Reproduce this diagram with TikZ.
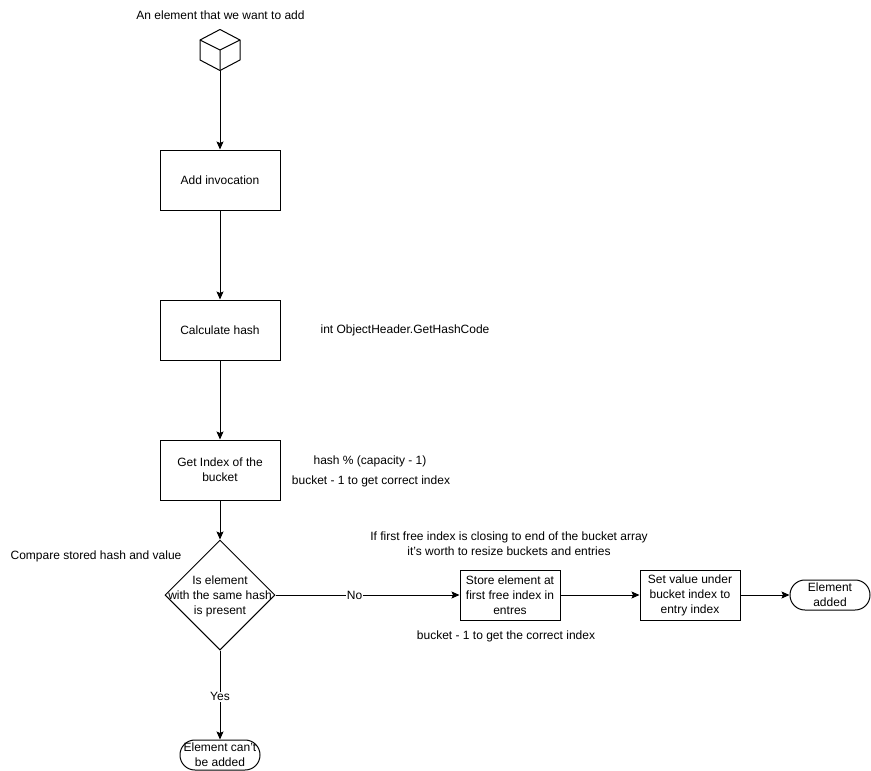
\documentclass[tikz,border=0pt]{standalone}
\usepackage{fontspec}
\setmainfont{Liberation Sans}[Ligatures=ResetAll]
\usetikzlibrary{arrows.meta,shapes.geometric}
\tikzset{
	every node/.style={font=\fontsize{12}{15}\selectfont, align=center},
	box/.style={draw, rectangle, minimum width=#1, inner sep=0pt},
	box/.default=120pt,
	decision/.style={draw, diamond, aspect=1, minimum width=110pt, minimum height=110pt, inner sep=0pt},
	stopper/.style={draw, rectangle, rounded corners=14.9pt, minimum width=80pt, minimum height=30pt, inner sep=0pt},
	note/.style={inner sep=0pt},
	flow/.style={-{Stealth[length=8pt,width=7pt,inset=1.5pt]}, line width=1pt},
	edgelabel/.style={fill=white, inner sep=1pt}
}
\begin{document}
\begin{tikzpicture}[x=1pt, y=-1pt, line width=1pt]
	\useasboundingbox (0,0) rectangle (871,771);

	% top of the flow
	\node[note] (elementnote) at (220.5,15) {An element that we want to add};
	\node[minimum width=40pt, minimum height=40pt, inner sep=0pt] (element) at (220,50) {};
	\draw[line join=round] (element.north) -- (240,40) -- (240,60) -- (element.south) -- (200,60) -- (200,40) -- cycle;
	\draw[line join=round] (200,40) -- (element.center) -- (240,40) (element.center) -- (element.south);

	\node[box, minimum height=60pt] (add) at (220,180) {Add invocation};
	\node[box, minimum height=60pt] (hash) at (220,330) {Calculate hash};
	\node[box, minimum height=60pt] (index) at (220,470) {Get Index of the\\bucket};
	\node[decision] (present) at (220,595) {};
	\node[note] (presenttext) at (220,596) {Is element\\with the same hash\\is present};
	\node[stopper] (cant) at (220,755) {Element can't\\be added};

	% right branch
	\node[box=100pt, minimum height=50pt] (store) at (510,595) {Store element at\\first free index in\\entres};
	\node[box=100pt, minimum height=50pt] (setvalue) at (690,595) {Set value under\\bucket index to\\entry index};
	\node[stopper] (added) at (830,595) {Element\\added};

	% notes
	\node[note] (hashnote) at (405,330) {int ObjectHeader.GetHashCode};
	\node[note] (modnote) at (370,461) {hash \% (capacity - 1)};
	\node[note] (bucketnote) at (371,481) {bucket - 1 to get correct index};
	\node[note] (comparenote) at (96,556) {Compare stored hash and value};
	\node[note] (resizenote) at (509,544) {If first free index is closing to end of the bucket array\\it's worth to resize buckets and entries};
	\node[note] (correctnote) at (506,636) {bucket - 1 to get the correct index};

	% connectors
	\draw[flow] (element.south) -- (add);
	\draw[flow] (add) -- (hash);
	\draw[flow] (hash) -- (index);
	\draw[flow] (index) -- (present.north);
	\draw[flow] (present.east) -- node[edgelabel, pos=.43] {No} (store);
	\draw[flow] (present.south) -- node[edgelabel, pos=.52] {Yes} (cant);
	\draw[flow] (store) -- (setvalue);
	\draw[flow] (setvalue) -- (added);
\end{tikzpicture}
\end{document}
